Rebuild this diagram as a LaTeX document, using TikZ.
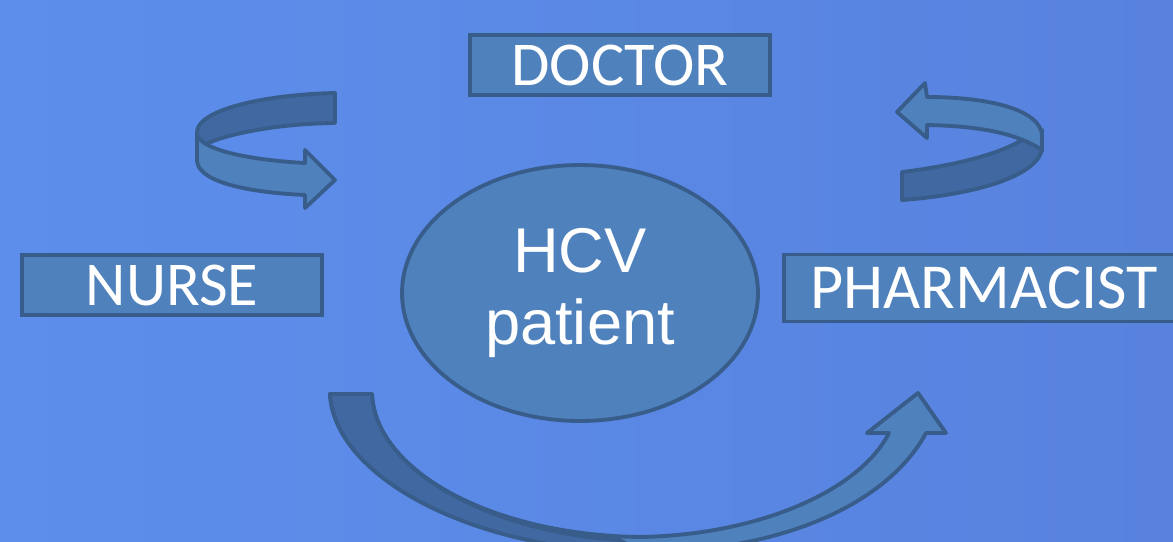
\documentclass[tikz,border=0pt]{standalone}
\usepackage{fontspec}
\usetikzlibrary{shapes.geometric}
\setmainfont{Carlito}
\newfontfamily\arialf{Liberation Sans}
\definecolor{bgL}{RGB}{93,142,236}
\definecolor{bgR}{RGB}{88,130,222}
\definecolor{boxfill}{RGB}{79,129,189}
\definecolor{darkband}{RGB}{65,104,160}
\definecolor{edge}{RGB}{56,93,138}
\tikzset{
  px/.style={x=0.02cm,y=-0.02cm},
  role/.style={draw=edge, line width=2.2pt, fill=boxfill, text=white,
    font=\fontsize{35.5}{40}\selectfont, inner sep=0pt, minimum height=1.2cm, minimum width=6cm},
  lightband/.style={draw=edge, line width=2.2pt, fill=boxfill, line join=round},
  darkbandst/.style={draw=edge, line width=2.2pt, fill=darkband, line join=round},
}
\begin{document}
\begin{tikzpicture}[px]
\path[use as bounding box, left color=bgL, right color=bgR] (0,0) rectangle (1173,541);
\clip (0,0) rectangle (1173,541);
% boxes
\node[role] (doctor) at (620,65) {DOCTOR};
\node[role] (nurse) at (172,285) {NURSE};
\node[role, minimum width=8cm, minimum height=1.34cm, font=\fontsize{36.5}{40}\selectfont] (pharm) at (984,288) {PHARMACIST};
% ellipse
\node[draw=edge, line width=2.2pt, fill=boxfill, ellipse, minimum width=7.12cm, minimum height=5.12cm, inner sep=0pt,
  text=white, align=center, font=\arialf\fontsize{36}{41}\selectfont] (patient) at (580,293) {HCV\\patient};
% left top curved arrow
\draw[darkbandst] (335,93) .. controls (255,95) and (197,112) .. (197,132) -- (197,150) .. controls (205,140) and (260,124) .. (335,123) -- cycle;
\draw[lightband] (197,134) .. controls (200,150) and (250,160) .. (305,163) -- (305,150) -- (335,180) -- (305,208) -- (305,195) .. controls (240,192) and (197,180) .. (197,160) -- cycle;
% right top curved arrow
\draw[darkbandst] (902,172) .. controls (960,165) and (1005,152) .. (1025,138) -- (1042,130) -- (1042,150) .. controls (1035,178) and (970,195) .. (902,200) -- cycle;
\draw[lightband] (927,125) .. controls (975,126) and (1015,132) .. (1042,150) -- (1042,135) .. controls (1040,110) and (990,97) .. (927,97) -- (925,83) -- (897,112) -- (927,138) -- cycle;
% bottom curved arrow
\draw[lightband] (330,394) -- (372,394) .. controls (375,470) and (490,535) .. (640,537) .. controls (760,535) and (860,490) .. (889,433) -- (867,433) -- (918,393) -- (946,433) -- (926,433) .. controls (890,500) and (790,550) .. (650,552) .. controls (480,552) and (335,480) .. (330,394) -- cycle;
\draw[darkbandst] (330,394) -- (372,394) .. controls (375,470) and (490,532) .. (620,540) -- (640,552) .. controls (480,552) and (335,480) .. (330,394) -- cycle;
\end{tikzpicture}
\end{document}
